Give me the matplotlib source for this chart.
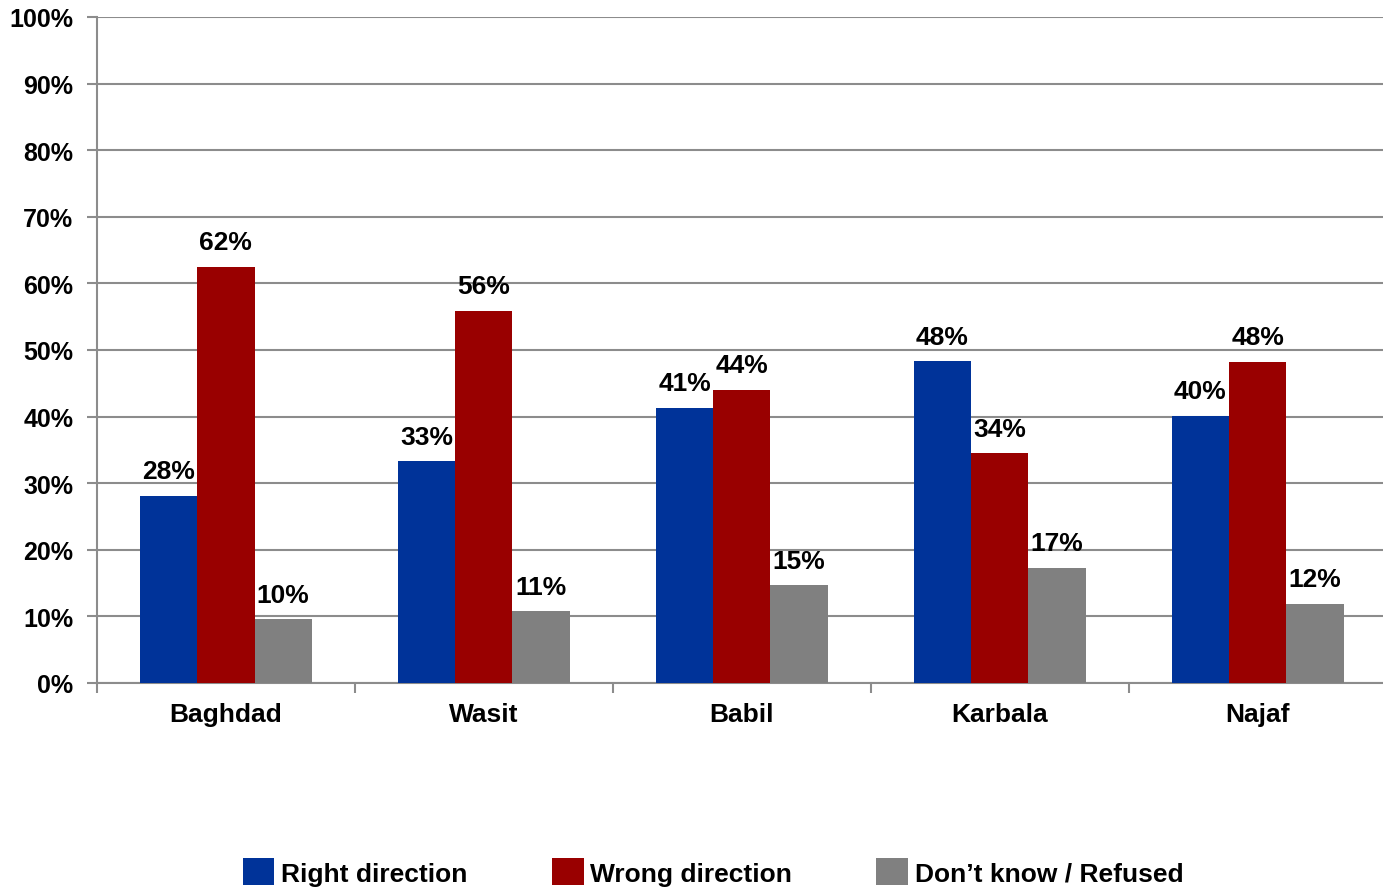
import matplotlib.pyplot as plt
from matplotlib.patches import Patch
from matplotlib.ticker import FixedLocator, PercentFormatter
import numpy as np

plt.rcParams['font.family'] = ['Liberation Sans', 'DejaVu Sans']
plt.rcParams['font.weight'] = 'bold'

# Data (percent)
provinces = ["Baghdad", "Wasit", "Babil", "Karbala", "Najaf"]
right_dir = [28.1, 33.3, 41.3, 48.3, 40.1]
wrong_dir = [62.5, 55.9, 44.0, 34.5, 48.2]
dont_know = [9.6, 10.8, 14.7, 17.3, 11.9]
series_names = ["Right direction", "Wrong direction", "Don\u2019t know / Refused"]
colors = ["#003399", "#990000", "#808080"]

fig = plt.figure(figsize=(13.83, 8.95), dpi=100)
ax = fig.add_axes([0.0701, 0.2358, 0.9325, 0.7441])

x = np.arange(len(provinces))
w = 0.222
for i, (vals, c) in enumerate(zip([right_dir, wrong_dir, dont_know], colors)):
    bars = ax.bar(x + (i - 1) * w, vals, width=w, color=c, zorder=3)
    for b, v in zip(bars, vals):
        ax.annotate(f"{v:.0f}%", (b.get_x() + b.get_width() / 2, v),
                    xytext=(0, 9), textcoords="offset points",
                    ha="center", va="bottom", fontsize=19, fontweight="bold")

ax.set_xlim(-0.5, len(provinces) - 0.5)
ax.set_ylim(0, 100)
ax.set_yticks(np.arange(0, 101, 10))
ax.yaxis.set_major_formatter(PercentFormatter(decimals=0))
ax.grid(axis="y", color="#8c8c8c", linewidth=1.5, zorder=0)

ax.set_xticks(x)
ax.set_xticklabels(provinces)
ax.xaxis.set_minor_locator(FixedLocator(np.arange(-0.5, len(provinces), 1.0)))
ax.tick_params(axis="x", which="major", length=0, pad=14, labelsize=19)
ax.tick_params(axis="x", which="minor", length=7, width=1.5, color="#8c8c8c")
ax.tick_params(axis="y", length=7, width=1.5, color="#8c8c8c", labelsize=18, pad=10)

for s in ["top", "right"]:
    ax.spines[s].set_visible(False)
for s in ["left", "bottom"]:
    ax.spines[s].set_color("#8c8c8c")
    ax.spines[s].set_linewidth(1.5)

handles = [Patch(facecolor=c) for c in colors]
fig.legend(handles, series_names, loc="center", bbox_to_anchor=(0.5156, 0.0246),
           ncol=3, frameon=False, handlelength=1.2, handleheight=1.2,
           handletextpad=0.25, columnspacing=3.2, prop={"weight": "bold", "size": 19})

fig.savefig("out.png", dpi=100)
